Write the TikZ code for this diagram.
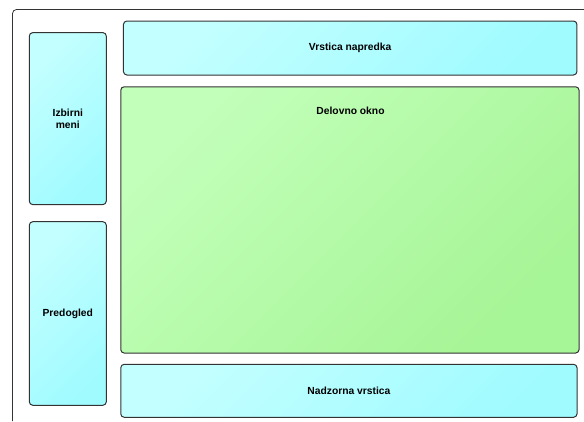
\documentclass[tikz,border=0pt]{standalone}
\usepackage{fontspec}
\setmainfont{Liberation Sans}
\definecolor{cyanlight}{HTML}{C4FFFF}
\definecolor{cyandark}{HTML}{A0FBFF}
\definecolor{greenlight}{HTML}{C2FFBA}
\definecolor{greendark}{HTML}{A6F596}
\definecolor{edge}{HTML}{333333}
\begin{document}
\begin{tikzpicture}[x=1pt, y=-1pt,
  panel/.style={draw=edge, line width=1pt, rounded corners=3.5pt, inner sep=0pt,
    font=\fontsize{10.3}{12.5}\selectfont\bfseries, align=center},
  cyanpanel/.style={panel, top color=cyanlight, bottom color=cyandark, shading angle=45},
  greenpanel/.style={panel, top color=greenlight, bottom color=greendark, shading angle=45},
  caption/.style={font=\fontsize{10.3}{12.5}\selectfont\bfseries, inner sep=0pt}
]
\useasboundingbox (0,0) rectangle (584,421);
\fill[white] (0,0) rectangle (584,421);

% open outer frame (top and left sides only)
\draw[edge, line width=0.8pt, rounded corners=4pt] (12.5,421) -- (12.5,9.5) -- (584,9.5);

% left column
\node[cyanpanel, minimum width=77pt, minimum height=172pt] (izbirni) at (67.8,118.6) {Izbirni\\meni};
\node[cyanpanel, minimum width=77pt, minimum height=183.6pt] (predogled) at (67.8,313.5) {Predogled};

% main area
\node[cyanpanel, minimum width=453.5pt, minimum height=54pt] (vrstica) at (350.2,48) {\raisebox{-1.5pt}{Vrstica napredka}};
\node[greenpanel, minimum width=458.3pt, minimum height=266.3pt] (delovno) at (349.9,219.9) {};
\node[caption] (delovnotxt) at (350.5,110.5) {Delovno okno};
\node[cyanpanel, minimum width=456.3pt, minimum height=53pt] (nadzorna) at (348.9,390.8) {Nadzorna vrstica};
\end{tikzpicture}
\end{document}
